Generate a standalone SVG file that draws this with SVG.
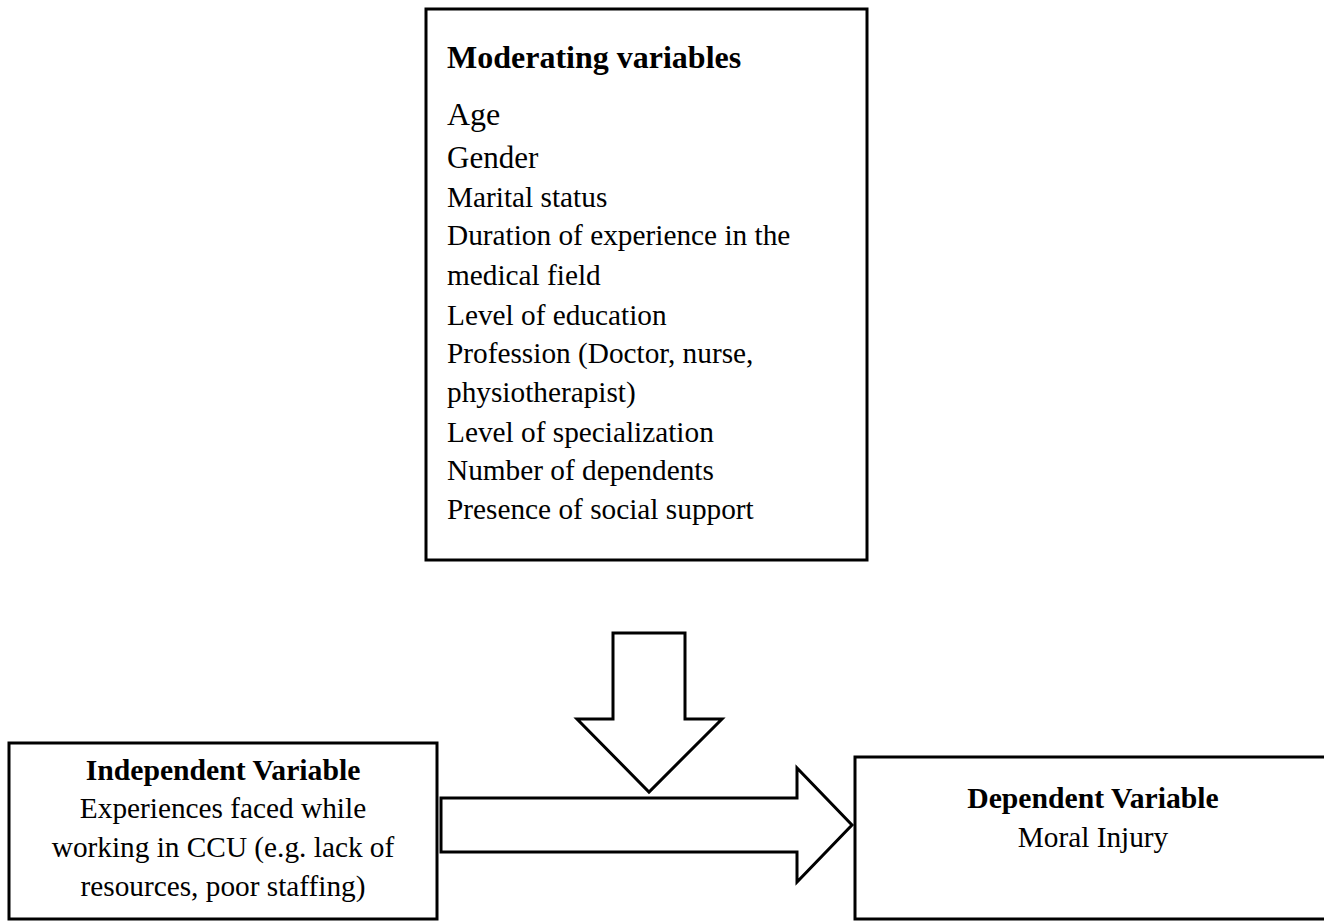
<svg xmlns="http://www.w3.org/2000/svg" width="1324" height="921" viewBox="0 0 1324 921">
<style>
.box{fill:#fff;stroke:#000;stroke-width:3}
.arrow{fill:#fff;stroke:#000;stroke-width:3;stroke-linejoin:miter}
text{font-family:"Liberation Serif","Times New Roman",serif;fill:#000}
.t{font-size:29.3px}
.b{font-size:29.7px;font-weight:bold}
.c{text-anchor:middle}
</style>
<rect width="1324" height="921" fill="#fff"/>
<g id="connectors">
<polygon class="arrow" points="441,798 797,798 797,768 852,825 797,882 797,852 441,852"/>
<polygon class="arrow" points="613,633 685,633 685,719 722,719 649,792 577,719 613,719"/>
</g>
<g id="moderating">
<rect class="box" x="426" y="9" width="441" height="551"/>
<text x="447" y="68" style="font-size:32px;font-weight:bold">Moderating variables</text>
<text x="447" y="125" style="font-size:32px">Age</text>
<text x="447" y="168" style="font-size:31px">Gender</text>
<text class="t" x="447" y="207">Marital status</text>
<text class="t" x="447" y="245">Duration of experience in the</text>
<text class="t" x="447" y="285">medical field</text>
<text class="t" x="447" y="325">Level of education</text>
<text class="t" x="447" y="363">Profession (Doctor, nurse,</text>
<text class="t" x="447" y="402">physiotherapist)</text>
<text class="t" x="447" y="442">Level of specialization</text>
<text class="t" x="447" y="480">Number of dependents</text>
<text class="t" x="447" y="519">Presence of social support</text>
</g>
<g id="independent">
<rect class="box" x="9" y="743" width="428" height="176"/>
<text class="b c" x="223" y="780">Independent Variable</text>
<text class="t c" x="223" y="818">Experiences faced while</text>
<text class="t c" x="223" y="857">working in CCU (e.g. lack of</text>
<text class="t c" x="223" y="896">resources, poor staffing)</text>
</g>
<g id="dependent">
<rect class="box" x="855" y="757" width="480" height="162"/>
<text class="b c" x="1093" y="808">Dependent Variable</text>
<text class="t c" x="1093" y="847">Moral Injury</text>
</g>
</svg>
